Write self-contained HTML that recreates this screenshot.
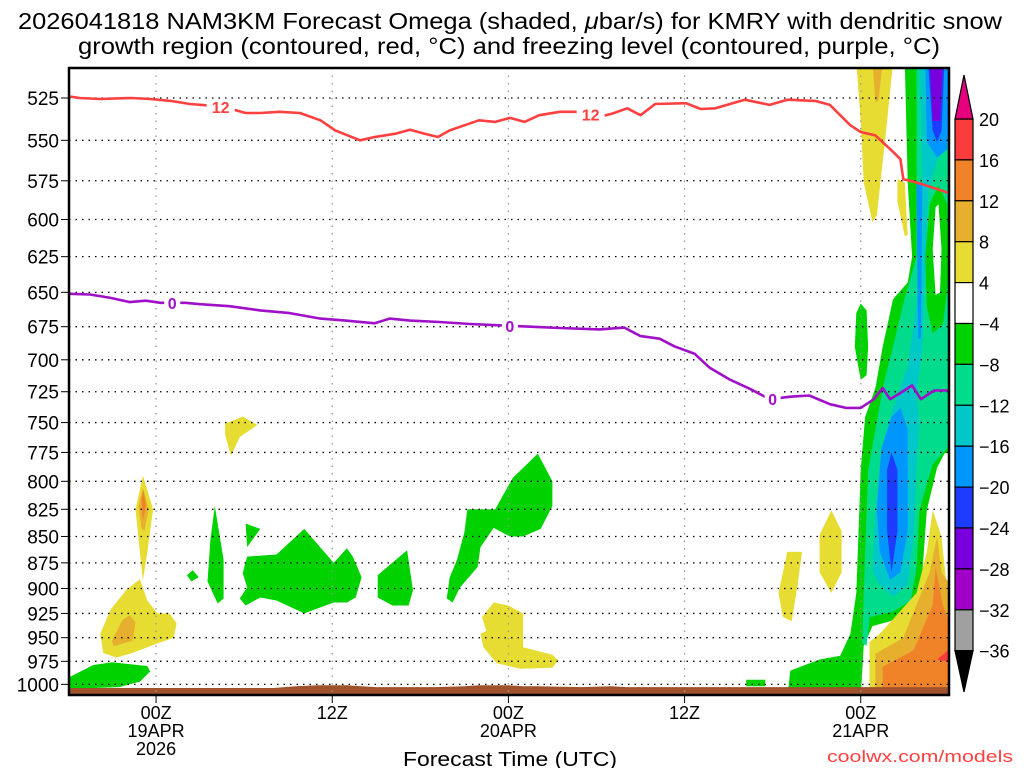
<!DOCTYPE html>
<html><head><meta charset="utf-8"><style>
html,body{margin:0;padding:0;background:#fff;}
svg{display:block;font-family:"Liberation Sans",sans-serif;}
</style></head><body>
<svg id="chart" width="1024" height="768" viewBox="0 0 1024 768" xmlns="http://www.w3.org/2000/svg">
<text x="510" y="29" font-size="23" text-anchor="middle" textLength="984" lengthAdjust="spacingAndGlyphs">2026041818 NAM3KM Forecast Omega (shaded, <tspan font-style="italic">μ</tspan>bar/s) for KMRY with dendritic snow</text>
<text x="509" y="54" font-size="23" text-anchor="middle" textLength="862" lengthAdjust="spacingAndGlyphs">growth region (contoured, red, °C) and freezing level (contoured, purple, °C)</text>
<defs><clipPath id="plotclip"><rect x="69" y="68" width="880" height="627"/></clipPath></defs>
<g id="shapes" clip-path="url(#plotclip)"></g>
<g id="grid"></g>
<g id="lines" clip-path="url(#plotclip)"></g>
<g id="axes"></g>
<g id="cbar"></g>
<text x="510" y="766" font-size="20" text-anchor="middle" textLength="214" lengthAdjust="spacingAndGlyphs">Forecast Time (UTC)</text>
<text x="1013" y="762" font-size="17" fill="#ff4040" text-anchor="end" textLength="186" lengthAdjust="spacingAndGlyphs">coolwx.com/models</text>
</svg>
<script>
// ---- data ----
const pressureTicks = [525,550,575,600,625,650,675,700,725,750,775,800,825,850,875,900,925,950,975,1000];
const timeTickHours = [6,18,30,42,54];
const timeTickLabels = [["00Z","19APR","2026"],["12Z"],["00Z","20APR"],["12Z"],["00Z","21APR"]];
const cbarLevels = [20,16,12,8,4,-4,-8,-12,-16,-20,-24,-28,-32,-36];
const cbarColors = ["#fa3c3c","#f08228","#e6af2d","#e6dc32","#ffffff","#00d200","#00dc8c","#00c8c8","#0096ff","#1e3cff","#7800dc","#a000c8","#a0a0a0"];
const redHours = [0,0.8,2.2,4.3,5.6,7,8.3,10,11.4,12.1,13.1,14.4,15.8,17.2,18.2,19.9,20.9,22.3,23.3,24.3,25.2,26,27,28,29.1,30.1,31.1,32.1,33.5,34.9,36.2,37.1,38.1,39.0,40.0,42.1,43.1,44.1,46.1,47.8,49.0,50.9,51.9,53.3,54.0,55.0,56.2,56.7,56.9,57.8,58.8,60.1];
const redPres  = [524,525,525.6,525,525.6,526.7,528.5,529.6,532,533.7,533.7,533,533.7,538,544,550,548,546,543.6,546,548,544,541,538,539,536.6,539,535,533,533,536,534,531,535,528.5,528,531.4,531,526,529,526,526.7,529,541,545,547,557,561.5,574,576,579,583];
const redLabelHours = [10.4,35.6];
const purpleHours = [0,1.5,2.9,4.2,5.3,6.3,8,9,11,13.1,15.1,17.2,18.9,20.9,21.9,23.3,25.3,27.4,29.4,31.5,33.5,36.2,37.9,39,40.3,41.3,42.7,43.7,45.1,46.5,47.8,49.2,50.5,51.9,53,54,54.9,55.5,56,56.7,57.5,58.1,59,60.1];
const purplePres  = [651,651.5,654,657,656,657.5,657.5,658.5,660,663,665,669,670.5,672.5,669,670.5,671.5,673,674,675,676,677,675.7,682,684,689.7,695.5,706,715.5,723,731,729,728,735,738,738,731,722,731,726,720,731,724,724];
const purpleLabelHours = [7.1,30.1,48];
const terrainHours = [0,10,14,15.5,17,18,19,20,21,25,27,28,29,30,31,32,35,37,38,40,46,54,60];
const terrainPres  = [1004,1004,1004,1002,1001,1001,1001,1002,1003,1003,1002,1001,1001,1001,1002,1002,1003,1002,1003,1003,1003,1003,1003];
// shaded regions: [colour index into cbarColors, [hour, hPa] pairs]
const blobs = [
 [5,[[0.1,992],[1.7,979],[3,976],[5.4,980],[5.6,986],[4.9,997],[3.5,1003],[0.1,1005]]],
 [3,[[2.2,946],[2.9,921],[4.0,901],[4.9,891],[5.4,912],[6.1,925],[6.9,925],[7.4,935],[7.2,950],[6.1,956],[4.4,966],[3.3,971],[2.4,966]]],
 [2,[[3.0,953],[3.7,932],[4.2,927],[4.6,934],[4.4,953],[3.1,959]]],
 [3,[[4.6,825],[5.1,795],[5.8,825],[5.4,865],[5.1,892],[4.9,865]]],
 [2,[[4.8,822],[5.1,806],[5.5,825],[5.2,845],[5.0,842]]],
 [1,[[5.0,815],[5.15,808],[5.3,822],[5.1,835]]],
 [3,[[0,790],[0.2,800],[0,815]]],
 [3,[[10.7,751],[11.9,745],[12.9,752],[11.7,762],[11.1,778],[10.7,760]]],
 [5,[[10.0,822],[10.6,872],[10.6,910],[10.2,915],[9.5,893],[9.7,853]]],
 [5,[[8.1,887],[8.5,882],[8.9,889],[8.4,893]]],
 [5,[[12.1,838],[13.1,843],[12.2,860]]],
 [5,[[12.2,869],[14.2,867],[16.1,843],[18.1,875],[19.0,861],[19.4,869],[20.0,889],[19.6,909],[19.0,914],[18.1,914],[16.1,925],[14.2,912],[13.1,909],[12.1,917],[11.7,910],[12.2,899],[11.9,885]]],
 [5,[[21.1,887],[23.1,863],[23.5,902],[23.2,917],[22.1,917],[21.1,909]]],
 [5,[[25.8,910],[26.0,889],[26.5,872],[27.0,846],[27.2,825],[29.1,825],[30.3,797],[32.0,776],[33.0,800],[33.0,822],[32.2,843],[31.0,850],[30.1,850],[29.0,842],[28.1,860],[27.9,879],[26.7,899],[26.2,914]]],
 [3,[[28.2,929],[29.0,914],[30.0,917],[31.0,925],[31.0,960],[33.0,968],[33.4,974],[33.0,982],[30.8,983],[29.2,977],[28.3,960],[28.1,946],[28.5,943]]],
 [5,[[57.0,505],[57.2,576],[57.5,625],[57.2,643],[56.2,655],[55.5,690],[55.0,722],[54.3,745.5],[54.0,790],[53.8,864.5],[53.7,904.5],[53.3,946],[52.6,969],[51.2,973],[49.2,985],[49.0,1015],[54.0,1015],[54.2,958.5],[54.8,938],[56.7,930],[57.8,915],[58.2,884],[58.5,826],[59.2,788],[59.7,776],[60.3,772],[60.3,505]]],
 [5,[[46.2,995],[47.5,995],[47.5,1002],[46.2,1002]]],
 [6,[[57.8,505],[57.8,625],[56.9,658],[56.2,690],[55.5,722],[55.0,755.5],[54.5,790],[54.2,904.5],[54.1,956],[54.4,958.5],[54.6,929],[56.2,923],[57.4,912.5],[57.8,880],[58.0,826],[58.9,785],[60.3,766],[60.3,505]]],
 [7,[[58.0,505],[58.2,576],[57.8,658],[57.2,705.5],[56.2,738],[55.4,772],[55.0,826],[54.8,884],[55.3,896.5],[56.2,908],[57.2,896.5],[57.6,850],[57.8,790],[58.0,749],[57.8,728],[58.2,690],[58.6,583],[59.2,562],[59.9,552],[60.3,551],[60.3,505]]],
 [8,[[56.1,745.5],[56.7,738],[57.2,755.5],[57.2,790],[57.2,845],[56.7,884],[56.0,891.5],[55.3,864.5],[55.1,826],[55.4,772]]],
 [8,[[57.8,576],[58.2,576],[58.1,684],[57.9,684]]],
 [8,[[58.4,505],[58.5,551],[59.2,560.5],[59.9,555.5],[60.0,505]]],
 [9,[[56.1,775],[56.5,790],[56.5,845],[56.1,884],[55.8,845],[55.8,790]]],
 [9,[[58.6,505],[58.9,544],[59.2,551],[59.5,544],[59.7,505]]],
 [10,[[58.7,505],[58.9,538.5],[59.4,538.5],[59.6,505]]],
 [5,[[58.4,625],[58.7,590],[59.3,578],[59.9,590],[60.0,640],[59.6,673],[58.9,680],[58.5,660]]],
 [4,[[58.9,620],[59.1,592],[59.3,590],[59.5,620],[59.4,650],[59.1,652]]],
 [3,[[53.7,505],[56.2,505],[55.8,538.5],[55.1,597],[54.8,602],[54.2,576],[54.0,538.5]]],
 [2,[[54.8,505],[55.5,505],[55.2,527],[55.0,527]]],
 [3,[[56.5,574],[57.0,576],[57.2,610.5],[57.0,611],[56.5,588]]],
 [5,[[54.0,658],[54.4,663],[54.5,690],[54.4,712],[54.0,715.5],[53.6,690],[53.7,665]]],
 [3,[[51.2,848.5],[52.0,826],[52.7,845],[52.7,884],[52.0,904.5],[51.2,884]]],
 [3,[[48.4,904.5],[49.0,864.5],[50.0,864.5],[49.7,896.5],[49.3,933],[48.7,928.5]]],
 [3,[[54.6,954.5],[55.3,946],[57.8,904.5],[58.5,864.5],[58.9,826],[59.5,850],[59.9,904.5],[60.3,916],[60.3,1015],[54.6,1015]]],
 [2,[[55.0,967],[56.9,950],[58.7,884],[59.2,850],[59.5,884],[60.3,900],[60.3,1015],[55.0,1015]]],
 [1,[[55.5,981],[57.6,963],[58.9,916.5],[59.1,880],[59.6,916.5],[60.3,946],[60.3,1015],[55.5,1015]]],
 [0,[[59.2,973],[60.3,958.5],[60.3,976]]]
];
// ---- axes ----
const X0=68, PXH=14.68, Y525=98, PXL=910;
const xS = h => X0 + h*PXH;
const yS = p => Y525 + PXL*Math.log(p/525);
const NS="http://www.w3.org/2000/svg";
function mk(tag, attrs, parent){const e=document.createElementNS(NS,tag);for(const k in attrs)e.setAttribute(k,attrs[k]);parent.appendChild(e);return e;}
const gS=document.getElementById('shapes'), gG=document.getElementById('grid'), gL=document.getElementById('lines'), gA=document.getElementById('axes'), gC=document.getElementById('cbar');
blobs.forEach((b,i)=>{
  const pl=mk('polygon',{points:b[1].map(q=>xS(q[0]).toFixed(1)+','+yS(q[1]).toFixed(1)).join(' '),fill:cbarColors[b[0]]},gS);
  
  
});
// terrain
{
  let d='M'+xS(terrainHours[0])+','+yS(terrainPres[0]);
  terrainHours.forEach((h,i)=>{d+=' L'+xS(h).toFixed(1)+','+yS(terrainPres[i]).toFixed(1);});
  d+=' L'+xS(61)+',700 L'+xS(-1)+',700 Z';
  const t=mk('path',{d:d,fill:'#a0522d'},gS);
  
  
}
// grid
pressureTicks.forEach(p=>{
  const y=yS(p);
  const l=mk('line',{x1:69,x2:949,y1:y,y2:y,stroke:'#000','stroke-width':1.3,'stroke-dasharray':'1.5 5'},gG);
  
  
  mk('line',{x1:61,x2:68,y1:y,y2:y,stroke:'#000','stroke-width':1},gA);
  const t=mk('text',{x:59,y:y+7,'font-size':19,'text-anchor':'end'},gA);
  t.textContent=p;
  
  
});
timeTickHours.forEach((h,i)=>{
  const x=xS(h);
  const l=mk('line',{x1:x,x2:x,y1:68,y2:695,stroke:'#999','stroke-width':1.3,'stroke-dasharray':'1.5 6'},gG);
  
  
  mk('line',{x1:x,x2:x,y1:695,y2:703,stroke:'#000','stroke-width':1},gA);
  timeTickLabels[i].forEach((s,j)=>{
    const t=mk('text',{x:x,y:719+j*18,'font-size':18,'text-anchor':'middle'},gA);
    t.textContent=s;
    
    
  });
});
// contour lines
function drawLine(hs,ps,color,labels,lab,name){
  const d=hs.map((h,i)=>(i?'L':'M')+xS(h).toFixed(1)+','+yS(ps[i]).toFixed(1)).join(' ');
  const p=mk('path',{d:d,fill:'none',stroke:color,'stroke-width':2.6,'stroke-linejoin':'round'},gL);
  
  
  labels.forEach(h=>{
    let k=0;while(k<hs.length-2&&hs[k+1]<h)k++;
    const f=(h-hs[k])/(hs[k+1]-hs[k]);const pp=ps[k]+f*(ps[k+1]-ps[k]);
    const x=xS(h),y=yS(pp);
    mk('rect',{x:x-lab.length*6-2,y:y-8,width:lab.length*12+4,height:16,fill:'#fff'},gL);
    const t=mk('text',{x:x,y:y+6,'font-size':16,'font-weight':'bold',fill:color,'text-anchor':'middle'},gL);
    t.textContent=lab;
    
    
  });
}
drawLine(redHours,redPres,'#ff4040',redLabelHours,'12','dgz-12c-contour');
drawLine(purpleHours,purplePres,'#a010c8',purpleLabelHours,'0','freezing-level-contour');
// frame
mk('rect',{x:69,y:68,width:880,height:627,fill:'none',stroke:'#000','stroke-width':2.5},gA);
// colorbar
const CB0=119, CBH=40.9, CX=955, CW=18;
cbarColors.forEach((c,i)=>{
  const r=mk('rect',{x:CX,y:CB0+i*CBH,width:CW,height:CBH,fill:c,stroke:'#000','stroke-width':1.2},gC);
  
  
});
mk('polygon',{points:`${CX},${CB0} ${CX+CW},${CB0} ${CX+CW/2},75`,fill:'#e6007e',stroke:'#000','stroke-width':1.2},gC);
mk('polygon',{points:`${CX},${CB0+13*CBH} ${CX+CW},${CB0+13*CBH} ${CX+CW/2},692`,fill:'#000',stroke:'#000','stroke-width':1.2},gC);
cbarLevels.forEach((v,i)=>{
  const t=mk('text',{x:979,y:CB0+i*CBH+7,'font-size':18},gC);
  t.textContent=v<0?'\u2212'+(-v):String(v);
  
  
});
</script>
</body></html>
